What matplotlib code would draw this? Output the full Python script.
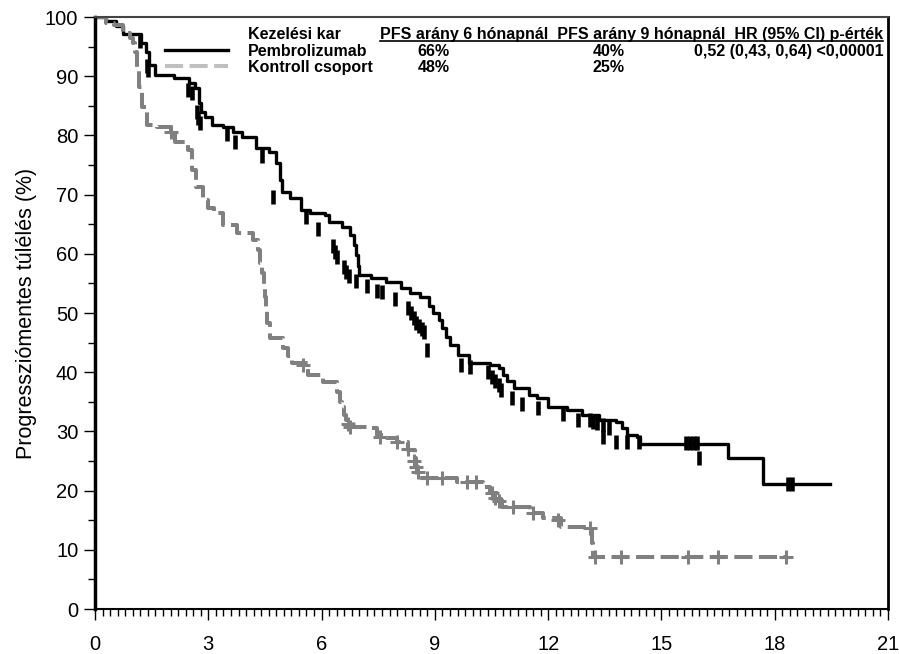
import matplotlib
matplotlib.use("Agg")
import matplotlib.pyplot as plt
from matplotlib.lines import Line2D
from matplotlib.ticker import MultipleLocator
import numpy as np

plt.rcParams['font.family'] = ['Liberation Sans', 'DejaVu Sans']

# Pembrolizumab KM curve (time in months, PFS %), step-post
pem_t = [0.0, 0.3, 0.55, 0.74, 1.22, 1.35, 1.44, 1.6, 2.1, 2.5, 2.65, 2.75, 2.8, 2.9,
         3.1, 3.4, 3.65, 3.9, 4.25, 4.6, 4.8, 4.9, 4.95, 5.15, 5.45, 5.7, 6.1, 6.2,
         6.55, 6.75, 6.85, 6.9, 6.97, 7.0, 7.3, 7.7, 8.1, 8.35, 8.6, 8.85, 8.95, 9.1,
         9.2, 9.3, 9.4, 9.6, 9.9, 10.45, 10.7, 10.8, 10.9, 11.1, 11.5, 11.7, 12.0,
         12.5, 12.9, 13.35, 13.8, 13.95, 14.1, 14.35, 14.43, 16.75, 17.7, 19.45]
pem_s = [100, 99.3, 98.5, 97.2, 95.6, 94.1, 91.9, 90.2, 89.7, 88.9, 88.0, 85.5, 84.0, 83.1,
         81.8, 81.4, 80.6, 79.7, 77.9, 77.2, 75.3, 72.5, 70.4, 69.4, 67.4, 66.9, 66.5, 65.4,
         64.5, 63.2, 61.5, 59.8, 58.0, 56.4, 55.9, 55.2, 54.2, 53.4, 52.7, 51.2, 50.0, 48.8,
         47.5, 46.0, 44.6, 42.9, 41.6, 41.2, 40.7, 39.5, 38.5, 37.3, 36.1, 35.6, 34.1,
         33.6, 32.8, 31.9, 31.6, 30.6, 29.4, 29.1, 27.9, 25.5, 21.2, 21.2]

# Kontroll csoport KM curve
ctl_t = [0.0, 0.3, 0.5, 0.74, 0.93, 1.0, 1.06, 1.1, 1.17, 1.25, 1.38, 1.64, 2.0, 2.12,
         2.45, 2.58, 2.68, 2.85, 3.0, 3.15, 3.39, 3.76, 4.18, 4.32, 4.38, 4.42, 4.47, 4.5,
         4.53, 4.56, 4.63, 4.98, 5.1, 5.22, 5.64, 6.04, 6.41, 6.5, 6.54, 6.6, 6.65, 6.83,
         7.2, 7.47, 7.73, 8.0, 8.3, 8.47, 8.5, 8.53, 8.6, 9.59, 10.28, 10.46, 10.65, 10.78,
         11.52, 11.86, 12.35, 13.16, 13.19, 18.3]
ctl_s = [100, 99.0, 98.6, 97.3, 96.4, 95.6, 94.1, 91.4, 88.2, 84.8, 81.8, 81.4, 80.6, 78.9,
         77.5, 74.2, 71.3, 69.1, 67.7, 66.9, 64.9, 63.5, 62.3, 60.6, 58.5, 56.8, 54.5, 52.7,
         50.5, 48.3, 45.8, 44.1, 42.8, 41.6, 39.5, 38.3, 36.7, 35.0, 34.1, 32.8, 31.9, 30.7,
         30.6, 29.4, 28.9, 28.2, 26.9, 25.5, 24.2, 23.1, 22.1, 21.5, 20.6, 19.6, 18.4, 17.2,
         16.2, 15.4, 13.9, 11.1, 8.8, 8.8]

# censor marks (as they sit in the picture)
pem_cens_t = [1.19, 1.38, 1.4, 2.46, 2.57, 2.7, 2.74, 2.78, 3.5, 3.7, 4.42, 4.7, 5.6, 5.9,
              6.3, 6.35, 6.42, 6.6, 6.65, 6.72, 6.9, 7.2, 7.47, 7.6, 7.95, 8.3, 8.38, 8.45,
              8.5, 8.58, 8.65, 8.72, 8.8, 9.7, 9.93, 10.4, 10.5, 10.6, 10.7, 10.75, 11.04,
              11.3, 11.73, 12.4, 12.8, 13.1, 13.2, 13.3, 13.45, 13.6, 13.45, 13.8, 14.1, 14.4,
              15.65, 15.75, 15.85, 15.95, 16.0, 18.35, 18.45]
pem_cens_s = [96.0, 91.8, 91.0, 87.6, 87.1, 84.0, 83.0, 82.1, 80.2, 78.9, 76.5, 69.6, 66.2, 64.2,
              61.3, 60.3, 59.5, 57.8, 57.0, 56.2, 55.4, 54.6, 53.7, 53.6, 52.4, 50.8, 50.0, 49.2,
              48.3, 47.8, 47.3, 46.8, 43.7, 41.2, 40.9, 40.0, 39.2, 38.5, 37.8, 37.0, 35.6,
              34.6, 33.9, 32.9, 31.9, 32.0, 31.6, 31.4, 31.0, 30.6, 29.0, 28.2, 28.2, 28.2,
              28.1, 28.1, 28.1, 28.1, 25.5, 21.2, 21.2]
ctl_cens_t = [2.0, 5.5, 6.7, 6.75, 7.55, 8.0, 8.3, 8.45, 8.5, 8.55, 8.8, 9.2, 9.85, 10.1,
              10.5, 10.6, 10.7, 11.07, 11.6, 12.26, 13.1, 13.24, 13.93, 15.7, 16.5, 18.3]
ctl_cens_s = [80.6, 41.2, 31.2, 30.8, 29.0, 28.2, 27.0, 25.0, 24.0, 23.2, 22.1, 22.1, 21.5, 21.5,
              19.6, 18.8, 18.2, 17.2, 16.2, 15.0, 13.7, 8.8, 8.8, 8.8, 8.8, 8.8]

legend_header = ['Kezelési kar', 'PFS arány 6 hónapnál  PFS arány 9 hónapnál  HR (95% CI) p-érték']
arms = ['Pembrolizumab', 'Kontroll csoport']
pfs6 = ['66%', '48%']
pfs9 = ['40%', '25%']
hr_txt = ['0,52 (0,43, 0,64) <0,00001', '']

fig = plt.figure(figsize=(8.99, 6.54), dpi=100)
ax = fig.add_axes([0.1057, 0.0688, 0.8821, 0.9052])

ax.plot(pem_t, pem_s, drawstyle='steps-post', color='black', lw=2.4)
ax.plot(ctl_t, ctl_s, drawstyle='steps-post', color='#808080', lw=2.9, dashes=(4.5, 1.6))
ax.plot(pem_cens_t, pem_cens_s, ls='none', marker='|', ms=10, mew=3.3, color='black')
ax.plot(ctl_cens_t, ctl_cens_s, ls='none', marker='+', ms=10, mew=2.2, color='#808080')

ax.set_xlim(0, 21)
ax.set_ylim(0, 100)
ax.xaxis.set_major_locator(MultipleLocator(3))
ax.xaxis.set_minor_locator(MultipleLocator(0.2))
ax.yaxis.set_major_locator(MultipleLocator(10))
ax.yaxis.set_minor_locator(MultipleLocator(5))
ax.tick_params(axis='both', which='major', direction='out', length=8, width=1, labelsize=14.5, colors='black')
ax.tick_params(axis='both', which='minor', direction='out', length=5, width=1)
ax.tick_params(axis='x', pad=11)
ax.tick_params(axis='y', pad=4)
ax.spines['left'].set_linewidth(2.5)
ax.spines['bottom'].set_linewidth(1.5)
ax.spines['right'].set_linewidth(2)
ax.spines['top'].set_linewidth(1.5)
ax.spines['top'].set_color('#444444')
ax.set_ylabel('Progressziómentes túlélés (%)', fontsize=15.5, labelpad=6)

# legend table
fs = 11.5
ax.text(0.193, 0.970, legend_header[0], transform=ax.transAxes, fontsize=fs, fontweight='bold', va='center')
hdr = ax.text(0.359, 0.970, legend_header[1], transform=ax.transAxes, fontsize=fs, fontweight='bold', va='center')
row_y = [0.941, 0.914]
for i in range(2):
    ax.text(0.193, row_y[i], arms[i], transform=ax.transAxes, fontsize=fs, fontweight='bold', va='center')
    ax.text(0.427, row_y[i], pfs6[i], transform=ax.transAxes, fontsize=fs, fontweight='bold', va='center', ha='center')
    ax.text(0.648, row_y[i], pfs9[i], transform=ax.transAxes, fontsize=fs, fontweight='bold', va='center', ha='center')
    ax.text(0.994, row_y[i], hr_txt[i], transform=ax.transAxes, fontsize=fs, fontweight='bold', va='center', ha='right')
ax.plot([0.088, 0.168], [row_y[0] + 0.003] * 2, transform=ax.transAxes, color='black', lw=2.4)
ax.plot([0.088, 0.168], [row_y[1] + 0.003] * 2, transform=ax.transAxes, color='#c0c0c0', lw=2.9, dashes=(4.5, 1.6))

# underline the header
fig.canvas.draw()
bb = hdr.get_window_extent(fig.canvas.get_renderer())
inv = fig.transFigure.inverted()
(x0, y0), (x1, _) = inv.transform([(bb.x0, bb.y0 + 1), (bb.x1, bb.y0 + 1)])
fig.add_artist(Line2D([x0, x1], [y0, y0], color='black', lw=1.2))

fig.savefig('out.png', dpi=100)
